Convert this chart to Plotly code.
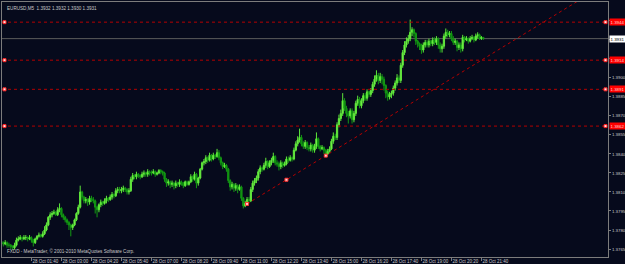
import plotly.graph_objects as go

# ---------------- data (EURUSD M5, 28 Oct 2010) ----------------
BASE = 1.3700          # prices below are in pips above BASE
PIP = 0.0001
FIRST_OPEN = 71

close_pips = [
    70, 69, 70, 68, 68, 67, 66, 68, 72, 73, 74, 73, 74, 74, 73, 74,
    72, 70, 73, 75, 76, 75, 77, 80, 84, 90, 92, 93, 94, 92, 96, 97,
    92, 90, 88, 86, 84, 82, 84, 88, 93, 98, 110, 106, 103, 104, 102, 105,
    104, 103, 98, 96, 100, 102, 101, 103, 105, 104, 106, 108, 107, 111, 112, 111,
    112, 113, 112, 110, 111, 120, 123, 122, 124, 123, 122, 124, 125, 124, 126, 125,
    125, 126, 124, 125, 127, 126, 125, 120, 117, 118, 116, 117, 115, 117, 116, 118,
    117, 115, 118, 116, 118, 122, 120, 124, 117, 121, 128, 133, 134, 137, 135, 139,
    136, 139, 138, 141, 137, 133, 130, 131, 128, 119, 114, 116, 113, 115, 112, 114,
    105, 99, 101, 104, 103, 112, 117, 119, 121, 126, 129, 128, 131, 134, 130, 133,
    135, 138, 133, 132, 130, 133, 131, 132, 136, 135, 137, 136, 143, 148, 151, 153,
    148, 146, 149, 145, 144, 147, 143, 146, 152, 146, 144, 145, 143, 140, 142, 144,
    150, 154, 153, 163, 168, 172, 182, 176, 172, 170, 174, 167, 172, 180, 183, 178,
    182, 186, 184, 189, 187, 190, 195, 199, 202, 198, 201, 199, 194, 188, 185, 187,
    188, 192, 196, 200, 198, 210, 220, 226, 229, 231, 236, 238, 235, 229, 227, 225,
    222, 226, 228, 226, 229, 227, 230, 228, 231, 226, 223, 225, 233, 236, 234, 235,
    231, 228, 229, 224, 226, 223, 232, 230, 231, 229, 231, 232, 230, 233, 234, 231, 232, 231,
]
high_pips = [
    73, 71, 72, 71, 70, 69, 68, 70, 74, 75, 76, 75, 76, 76, 75, 76,
    75, 73, 74, 76, 78, 77, 79, 83, 86, 91, 94, 95, 96, 95, 98, 101,
    98, 93, 91, 89, 87, 85, 85, 89, 94, 100, 115, 111, 107, 106, 105, 107,
    107, 106, 104, 99, 101, 104, 103, 105, 107, 106, 108, 110, 109, 113, 114, 114,
    114, 115, 114, 113, 113, 122, 125, 124, 126, 125, 124, 126, 127, 126, 128, 127,
    127, 128, 127, 126, 128, 128, 127, 126, 121, 120, 119, 119, 118, 119, 118, 120,
    119, 118, 119, 119, 119, 124, 123, 126, 125, 122, 129, 134, 136, 139, 138, 141,
    140, 141, 140, 144, 143, 138, 134, 133, 132, 129, 120, 118, 117, 117, 116, 116,
    115, 106, 103, 106, 106, 114, 119, 121, 123, 128, 131, 130, 133, 137, 135, 135,
    137, 141, 139, 135, 134, 135, 134, 134, 138, 138, 139, 138, 145, 150, 154, 160,
    155, 150, 151, 150, 147, 149, 148, 148, 157, 153, 147, 147, 146, 144, 144, 146,
    152, 157, 156, 165, 171, 175, 188, 184, 178, 174, 176, 176, 174, 182, 186, 185,
    184, 188, 188, 191, 190, 192, 197, 202, 206, 204, 204, 203, 201, 195, 190, 189,
    190, 194, 198, 203, 202, 212, 222, 229, 232, 234, 246, 240, 239, 236, 230, 228,
    227, 228, 230, 230, 231, 230, 232, 232, 233, 232, 228, 227, 235, 239, 238, 237,
    237, 233, 231, 230, 228, 228, 234, 233, 233, 232, 233, 234, 233, 235, 236, 235, 233, 232,
]
low_pips = [
    69, 67, 68, 66, 66, 65, 64, 65, 67, 71, 72, 71, 72, 72, 71, 72,
    70, 67, 69, 72, 74, 74, 74, 76, 79, 83, 88, 90, 92, 91, 91, 94,
    90, 88, 86, 84, 80, 75, 80, 83, 87, 92, 97, 104, 101, 101, 99, 100,
    102, 101, 93, 90, 94, 98, 99, 100, 101, 102, 103, 104, 105, 106, 109, 109,
    109, 110, 110, 108, 108, 110, 118, 120, 120, 121, 120, 121, 122, 122, 122, 123,
    123, 124, 122, 123, 124, 124, 123, 118, 114, 115, 113, 114, 112, 113, 114, 114,
    115, 113, 114, 115, 115, 117, 118, 119, 113, 115, 120, 127, 131, 132, 133, 134,
    134, 135, 136, 137, 135, 131, 128, 129, 126, 117, 111, 112, 110, 111, 109, 111,
    103, 97, 98, 100, 101, 102, 110, 115, 117, 119, 124, 126, 127, 129, 128, 129,
    131, 133, 131, 130, 127, 128, 129, 130, 131, 133, 134, 134, 135, 142, 146, 149,
    146, 144, 144, 143, 142, 142, 141, 141, 144, 144, 142, 143, 140, 138, 139, 141,
    143, 148, 151, 151, 161, 166, 170, 174, 169, 164, 168, 164, 165, 170, 178, 176,
    176, 180, 182, 182, 185, 185, 188, 193, 197, 195, 196, 195, 190, 184, 182, 183,
    184, 186, 190, 194, 196, 196, 208, 218, 224, 227, 229, 233, 232, 226, 224, 222,
    219, 220, 224, 224, 224, 225, 225, 226, 226, 223, 220, 220, 223, 231, 232, 232,
    229, 226, 226, 221, 222, 220, 221, 228, 229, 227, 228, 230, 228, 229, 231, 230, 230, 230,
]

tick_bars = [0, 16, 32, 48, 64, 80, 96, 112, 128, 144, 160, 176, 192, 208, 224, 240, 256]
tick_labels = ["28 Oct 2010", "28 Oct 01:40", "28 Oct 03:00", "28 Oct 04:20", "28 Oct 05:40",
               "28 Oct 07:00", "28 Oct 08:20", "28 Oct 09:40", "28 Oct 11:00", "28 Oct 12:20",
               "28 Oct 13:40", "28 Oct 15:00", "28 Oct 16:20", "28 Oct 17:40", "28 Oct 19:00",
               "28 Oct 20:20", "28 Oct 21:40"]
y_ticks = [1.3765, 1.3780, 1.3795, 1.3810, 1.3825, 1.3840, 1.3855, 1.3870, 1.3885,
           1.3900, 1.3915, 1.3930, 1.3945, 1.3960]
y_tick_labels = ["1.3765", "1.3780", "1.3795", "1.3810", "1.3825", "1.3840", "1.3855",
                 "1.3870", "1.3885", "1.3900", "", "", "", "1.3960"]  # others hidden under price boxes

levels = [1.3944, 1.3914, 1.3891, 1.3862]
current_price = 1.3931
trend_bars = [131, 173]
trend_prices = [1.38006, 1.38387]
trend_marks = [131, 152, 173]

header = "EURUSD,M5  1.3932 1.3932 1.3930 1.3931"
footer = "FXDD - MetaTrader, \u00a9 2001-2010 MetaQuotes Software Corp."

# ---------------- build ----------------
n = len(close_pips)
bars = list(range(n))
closes = [BASE + c * PIP for c in close_pips]
opens = [BASE + FIRST_OPEN * PIP] + closes[:-1]
highs = [BASE + h * PIP for h in high_pips]
lows = [BASE + l * PIP for l in low_pips]

X_RANGE = [0.3, 323.5]
Y_RANGE = [1.37587, 1.39599]

BG = "#060a1c"
GRAY = "#7c7c7c"
RED = "#b40000"
FONT = "Liberation Sans"

fig = go.Figure()
fig.add_trace(go.Candlestick(
    x=bars, open=opens, high=highs, low=lows, close=closes,
    increasing=dict(line=dict(color="#5ee83a", width=1), fillcolor="#8cff5a"),
    decreasing=dict(line=dict(color="#139a13", width=1), fillcolor="#0f8a0f"),
    whiskerwidth=0, showlegend=False, hoverinfo="skip",
))

# trend line (ray to the right)
slope = (trend_prices[1] - trend_prices[0]) / (trend_bars[1] - trend_bars[0])
tx = [trend_bars[0], X_RANGE[1] + 20]
ty = [trend_prices[0] + slope * (b - trend_bars[0]) for b in tx]
fig.add_trace(go.Scatter(x=tx, y=ty, mode="lines",
                         line=dict(color=RED, width=1, dash="dot"),
                         showlegend=False, hoverinfo="skip"))
fig.add_trace(go.Scatter(
    x=trend_marks,
    y=[trend_prices[0] + slope * (b - trend_bars[0]) for b in trend_marks],
    mode="markers",
    marker=dict(symbol="square", size=3, color="#ffd0d0", line=dict(color="#ff3030", width=1)),
    showlegend=False, hoverinfo="skip"))

shapes = []
annotations = []
for lv in levels:
    shapes.append(dict(type="line", xref="paper", x0=0, x1=1, yref="y", y0=lv, y1=lv,
                       line=dict(color=RED, width=1, dash="dot"), layer="above"))
    for xa, x0, x1 in ((0, 1, 4), (1, -4, -1)):
        shapes.append(dict(type="rect", xref="paper", xsizemode="pixel", xanchor=xa,
                           x0=x0, x1=x1, yref="y", ysizemode="pixel", yanchor=lv,
                           y0=-1.5, y1=1.5, fillcolor="#ffe0e0",
                           line=dict(color="#ff2020", width=1), layer="above"))
    annotations.append(dict(xref="paper", x=1, xanchor="left", xshift=1,
                            yref="y", y=lv, yanchor="middle", text=f"{lv:.4f}",
                            showarrow=False, bgcolor="#ff0000", borderpad=0.5,
                            font=dict(family=FONT, size=4.4, color="#ffd0d0")))

shapes.append(dict(type="line", xref="paper", x0=0, x1=1, yref="y",
                   y0=current_price, y1=current_price,
                   line=dict(color="#5c5c5c", width=1), layer="below"))
annotations.append(dict(xref="paper", x=1, xanchor="left", xshift=1,
                        yref="y", y=current_price, yanchor="middle",
                        text=f"{current_price:.4f}", showarrow=False,
                        bgcolor="#ffffff", borderpad=0.5,
                        font=dict(family=FONT, size=4.4, color="#000000")))
annotations.append(dict(xref="paper", x=0, xanchor="left", xshift=3,
                        yref="paper", y=1, yanchor="top", yshift=-2,
                        text=header, showarrow=False,
                        font=dict(family=FONT, size=4.6, color="#c8c8c8")))
annotations.append(dict(xref="paper", x=0, xanchor="left", xshift=3,
                        yref="paper", y=0, yanchor="bottom", yshift=1,
                        text=footer, showarrow=False,
                        font=dict(family=FONT, size=4.6, color="#c8c8c8")))

fig.update_layout(
    width=625, height=264,
    margin=dict(l=2, r=17, t=2, b=7, autoexpand=False),
    paper_bgcolor=BG, plot_bgcolor=BG,
    boxgap=0.05,
    showlegend=False,
    shapes=shapes, annotations=annotations,
    font=dict(family=FONT, size=5, color="#c8c8c8"),
)
fig.update_xaxes(range=X_RANGE, showgrid=False, zeroline=False, automargin=False,
                 rangeslider=dict(visible=False),
                 showline=True, mirror=True, linecolor=GRAY, linewidth=1,
                 ticks="outside", ticklen=3, tickcolor=GRAY, tickangle=0,
                 tickvals=tick_bars, ticktext=tick_labels,
                 ticklabelposition="outside right", ticklabelstandoff=0,
                 tickfont=dict(family=FONT, size=4.5, color="#c8c8c8"))
fig.update_yaxes(range=Y_RANGE, side="right", showgrid=False, zeroline=False,
                 automargin=False,
                 showline=True, mirror=True, linecolor=GRAY, linewidth=1,
                 ticks="outside", ticklen=2, tickcolor=GRAY,
                 ticklabelstandoff=0,
                 tickvals=y_ticks, ticktext=y_tick_labels,
                 tickfont=dict(family=FONT, size=4.4, color="#c8c8c8"))

fig.write_html("out.html")
